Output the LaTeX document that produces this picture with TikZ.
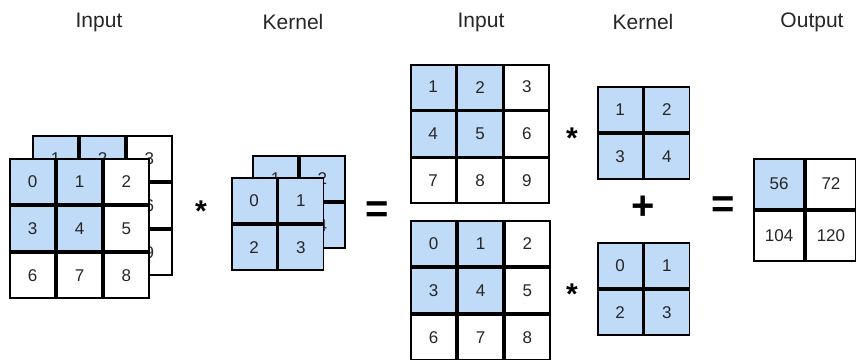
\documentclass[tikz,border=0pt]{standalone}
\usepackage{fontspec}
\setmainfont{Liberation Sans}
\usetikzlibrary{matrix, positioning}
\definecolor{cellblue}{RGB}{191,219,247}
\tikzset{
  cell/.style = {
    draw=black,
    fill=white,
    line width=1.9pt,
    minimum size=45pt,
    inner sep=0,
    outer sep=0,
    anchor=center,
    text=black!85,
    font=\fontsize{17}{17}\selectfont,
  },
  hot/.style = {
    fill=cellblue,
  },
  grid/.style = {
    matrix of nodes,
    inner sep=0,
    column sep=0,
    row sep=0,
    nodes={cell},
  },
  caption/.style = {
    text=black!85,
    font=\fontsize{21}{21}\selectfont,
  },
  op/.style = {
    font=\fontsize{40}{40}\selectfont\bfseries,
  },
  star/.style = {
    font=\fontsize{30}{30}\selectfont\bfseries,
  },
}

\begin{document}
\begin{tikzpicture}[x=1pt, y=-1pt]
\useasboundingbox (0,0) rectangle (856,359);

% captions
\node(InputLabel)[caption] at (99,22) {Input};
\node(KernelLabel)[caption] at (293,22) {Kernel};
\node(InputSumLabel)[caption] at (481,22) {Input};
\node(KernelSumLabel)[caption] at (643,22) {Kernel};
\node(OutputLabel)[caption] at (812,22) {Output};

% two channel input and kernel
\matrix(InputBack)[grid] at (102.5,205.5) {
  |[hot]| 1 & |[hot]| 2 & 3 \\
  |[hot]| 4 & |[hot]| 5 & 6 \\
  7 & 8 & 9 \\
};
\matrix(InputFront)[grid] at (79.5,228.5) {
  |[hot]| 0 & |[hot]| 1 & 2 \\
  |[hot]| 3 & |[hot]| 4 & 5 \\
  6 & 7 & 8 \\
};

\node(StarLeft)[star] at (201,211) {*};

\matrix(KernelBack)[grid, nodes={hot}] at (299,202) {
  1 & 2 \\
  3 & 4 \\
};
\matrix(KernelFront)[grid, nodes={hot}] at (277.5,224) {
  0 & 1 \\
  2 & 3 \\
};

\node(EqualLeft)[op] at (377,212) {=};

% one channel at a time
\matrix(InputOne)[grid] at (480,134) {
  |[hot]| 1 & |[hot]| 2 & 3 \\
  |[hot]| 4 & |[hot]| 5 & 6 \\
  7 & 8 & 9 \\
};
\matrix(InputTwo)[grid] at (480.5,290.5) {
  |[hot]| 0 & |[hot]| 1 & 2 \\
  |[hot]| 3 & |[hot]| 4 & 5 \\
  6 & 7 & 8 \\
};

\node(StarOne)[star] at (572,138) {*};
\node(StarTwo)[star] at (572,294) {*};

\matrix(KernelOne)[grid, nodes={hot}] at (643.5,133) {
  1 & 2 \\
  3 & 4 \\
};
\matrix(KernelTwo)[grid, nodes={hot}] at (643.5,289) {
  0 & 1 \\
  2 & 3 \\
};

\node(Plus)[op] at (643,208) {+};
\node(EqualRight)[op] at (723,207) {=};

% result
\matrix(Output)[grid, nodes={minimum size=50pt}] at (805,210) {
  |[hot]| 56 & 72 \\
  104 & 120 \\
};

\end{tikzpicture}
\end{document}
